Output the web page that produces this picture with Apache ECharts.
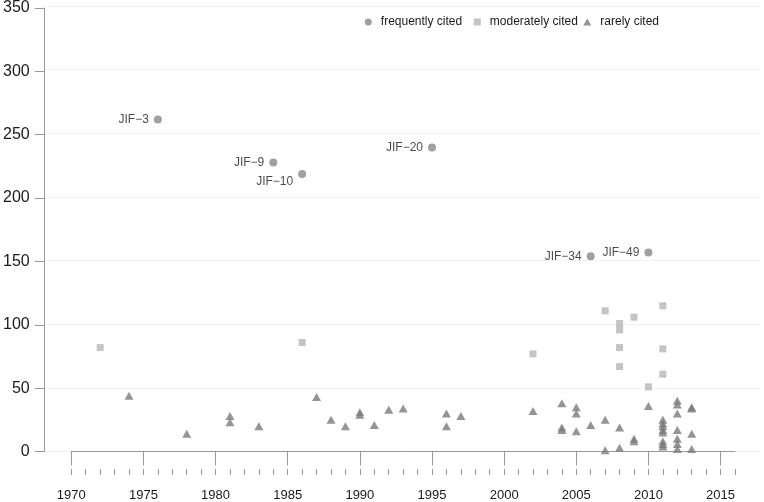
<!DOCTYPE html>
<html>
<head>
<meta charset="utf-8">
<script src="https://cdn.jsdelivr.net/npm/echarts@6/dist/echarts.min.js"></script>
<style>
html,body{margin:0;padding:0;background:#fff;}
#chart{width:764px;height:502px;}
</style>
</head>
<body>
<div id="chart"></div>
<script>
// ---- data ----
var seriesNames = ['frequently cited', 'moderately cited', 'rarely cited'];

var freqYears  = [1976, 1984, 1986, 1995, 2006, 2010];
var freqValues = [262, 228, 219, 240, 154, 157];
var freqLabels = ['JIF\u22123', 'JIF\u22129', 'JIF\u221210', 'JIF\u221220', 'JIF\u221234', 'JIF\u221249'];

var modYears  = [1972, 1986, 2002, 2007, 2008, 2008, 2008, 2008, 2009, 2010, 2011, 2011, 2011];
var modValues = [82, 86, 77, 111, 101, 96, 82, 67, 106, 51, 115, 81, 61];

var rareYears = [1974, 1978, 1981, 1981, 1983, 1987, 1988, 1989, 1990, 1990, 1991, 1992, 1993,
  1996, 1996, 1997, 2002, 2004, 2004, 2004, 2005, 2005, 2005, 2006, 2007, 2007, 2008, 2008,
  2009, 2009, 2010,
  2011, 2011, 2011, 2011, 2011, 2011, 2011, 2011,
  2012, 2012, 2012, 2012, 2012, 2012, 2012,
  2013, 2013, 2013, 2013];
var rareValues = [44, 14, 28, 23, 20, 43, 25, 20, 31, 29, 21, 33, 34,
  30, 20, 28, 32, 38, 19, 17, 35, 30, 16, 21, 25, 1, 19, 3,
  10, 8, 36,
  25, 22, 20, 17, 15, 8, 6, 4,
  40, 37, 30, 17, 10, 6, 2,
  35, 34, 14, 2];

var xMajorTicks = [1970, 1975, 1980, 1985, 1990, 1995, 2000, 2005, 2010, 2015];
var xMinorTicks = [];
for (var yr = 1970; yr <= 2016; yr++) xMinorTicks.push(yr);

// ---- build ----
function pairs(xs, ys, names) {
  return xs.map(function (x, i) {
    var d = { value: [x, ys[i]] };
    if (names) d.name = names[i];
    return d;
  });
}
var freqData = pairs(freqYears, freqValues, freqLabels);
// JIF-10 label sits below-left of its point
freqData[2].label = { offset: [0, 8] };

var FONT = 'Liberation Sans, Arial, Helvetica, sans-serif';
var axisGray = '#9a9a9a';
var textCol = '#1a1a1a';

var chart = echarts.init(document.getElementById('chart'), null, { renderer: 'canvas' });
var legendText = { fontSize: 12, color: textCol, fontFamily: FONT, padding: [0, 0, 0, 4] };
var option = {
  animation: false,
  backgroundColor: '#ffffff',
  textStyle: { fontFamily: FONT },
  grid: [
    { left: 69.3, right: 29, top: 6, bottom: 50.5 },
    { left: 44, right: 4, top: 6, bottom: 50.5 }
  ],
  legend: [
    { data: [seriesNames[0]], left: 364.8, top: 16, padding: 0, icon: 'circle', itemWidth: 7, itemHeight: 7, textStyle: legendText },
    { data: [seriesNames[1]], left: 473.8, top: 16, padding: 0, icon: 'rect', itemWidth: 7, itemHeight: 7, textStyle: legendText },
    { data: [seriesNames[2]], left: 583.3, top: 16, padding: 0, icon: 'triangle', itemWidth: 8, itemHeight: 7, textStyle: legendText }
  ],
  xAxis: [
    { type: 'value', gridIndex: 0, min: 1970, max: 2016, position: 'bottom', offset: 17.5,
      axisLine: { show: true, lineStyle: { color: axisGray, width: 1 } },
      axisTick: { show: true, length: 14, lineStyle: { color: axisGray }, customValues: xMajorTicks },
      axisLabel: { show: true, margin: 20, fontSize: 13, color: textCol, fontFamily: FONT, customValues: xMajorTicks,
        formatter: function (v) { return String(v); } },
      splitLine: { show: false } },
    { type: 'value', gridIndex: 0, min: 1970, max: 2016, position: 'bottom', offset: 17.5,
      axisLine: { show: false },
      axisTick: { show: true, length: 6, lineStyle: { color: axisGray }, customValues: xMinorTicks },
      axisLabel: { show: false },
      splitLine: { show: false } },
    { type: 'value', gridIndex: 1, min: 0, max: 1, show: false }
  ],
  yAxis: [
    { type: 'value', gridIndex: 0, min: 0, max: 350, interval: 50, offset: 26.6,
      axisLine: { show: true, lineStyle: { color: axisGray, width: 1 } },
      axisTick: { show: true, length: 10, lineStyle: { color: axisGray } },
      axisLabel: { margin: 15, fontSize: 16, color: textCol, fontFamily: FONT },
      splitLine: { show: false } },
    { type: 'value', gridIndex: 1, min: 0, max: 350, interval: 50,
      axisLine: { show: false }, axisTick: { show: false }, axisLabel: { show: false },
      splitLine: { show: true, lineStyle: { color: '#f2f2f2', width: 1 } } }
  ],
  series: [
    { name: seriesNames[0], type: 'scatter', xAxisIndex: 0, yAxisIndex: 0,
      symbol: 'circle', symbolSize: 8, itemStyle: { color: '#888888' },
      label: { show: true, position: 'left', distance: 5, formatter: '{b}', fontSize: 12, color: textCol, fontFamily: FONT },
      data: freqData, z: 3 },
    { name: seriesNames[1], type: 'scatter', xAxisIndex: 0, yAxisIndex: 0,
      symbol: 'rect', symbolSize: 7, itemStyle: { color: '#b5b5b5' },
      data: pairs(modYears, modValues), z: 2 },
    { name: seriesNames[2], type: 'scatter', xAxisIndex: 0, yAxisIndex: 0,
      symbol: 'triangle', symbolSize: [9, 8], itemStyle: { color: '#7b7b7b' },
      data: pairs(rareYears, rareValues), z: 2 }
  ]
};
chart.setOption(option);
</script>
</body>
</html>
